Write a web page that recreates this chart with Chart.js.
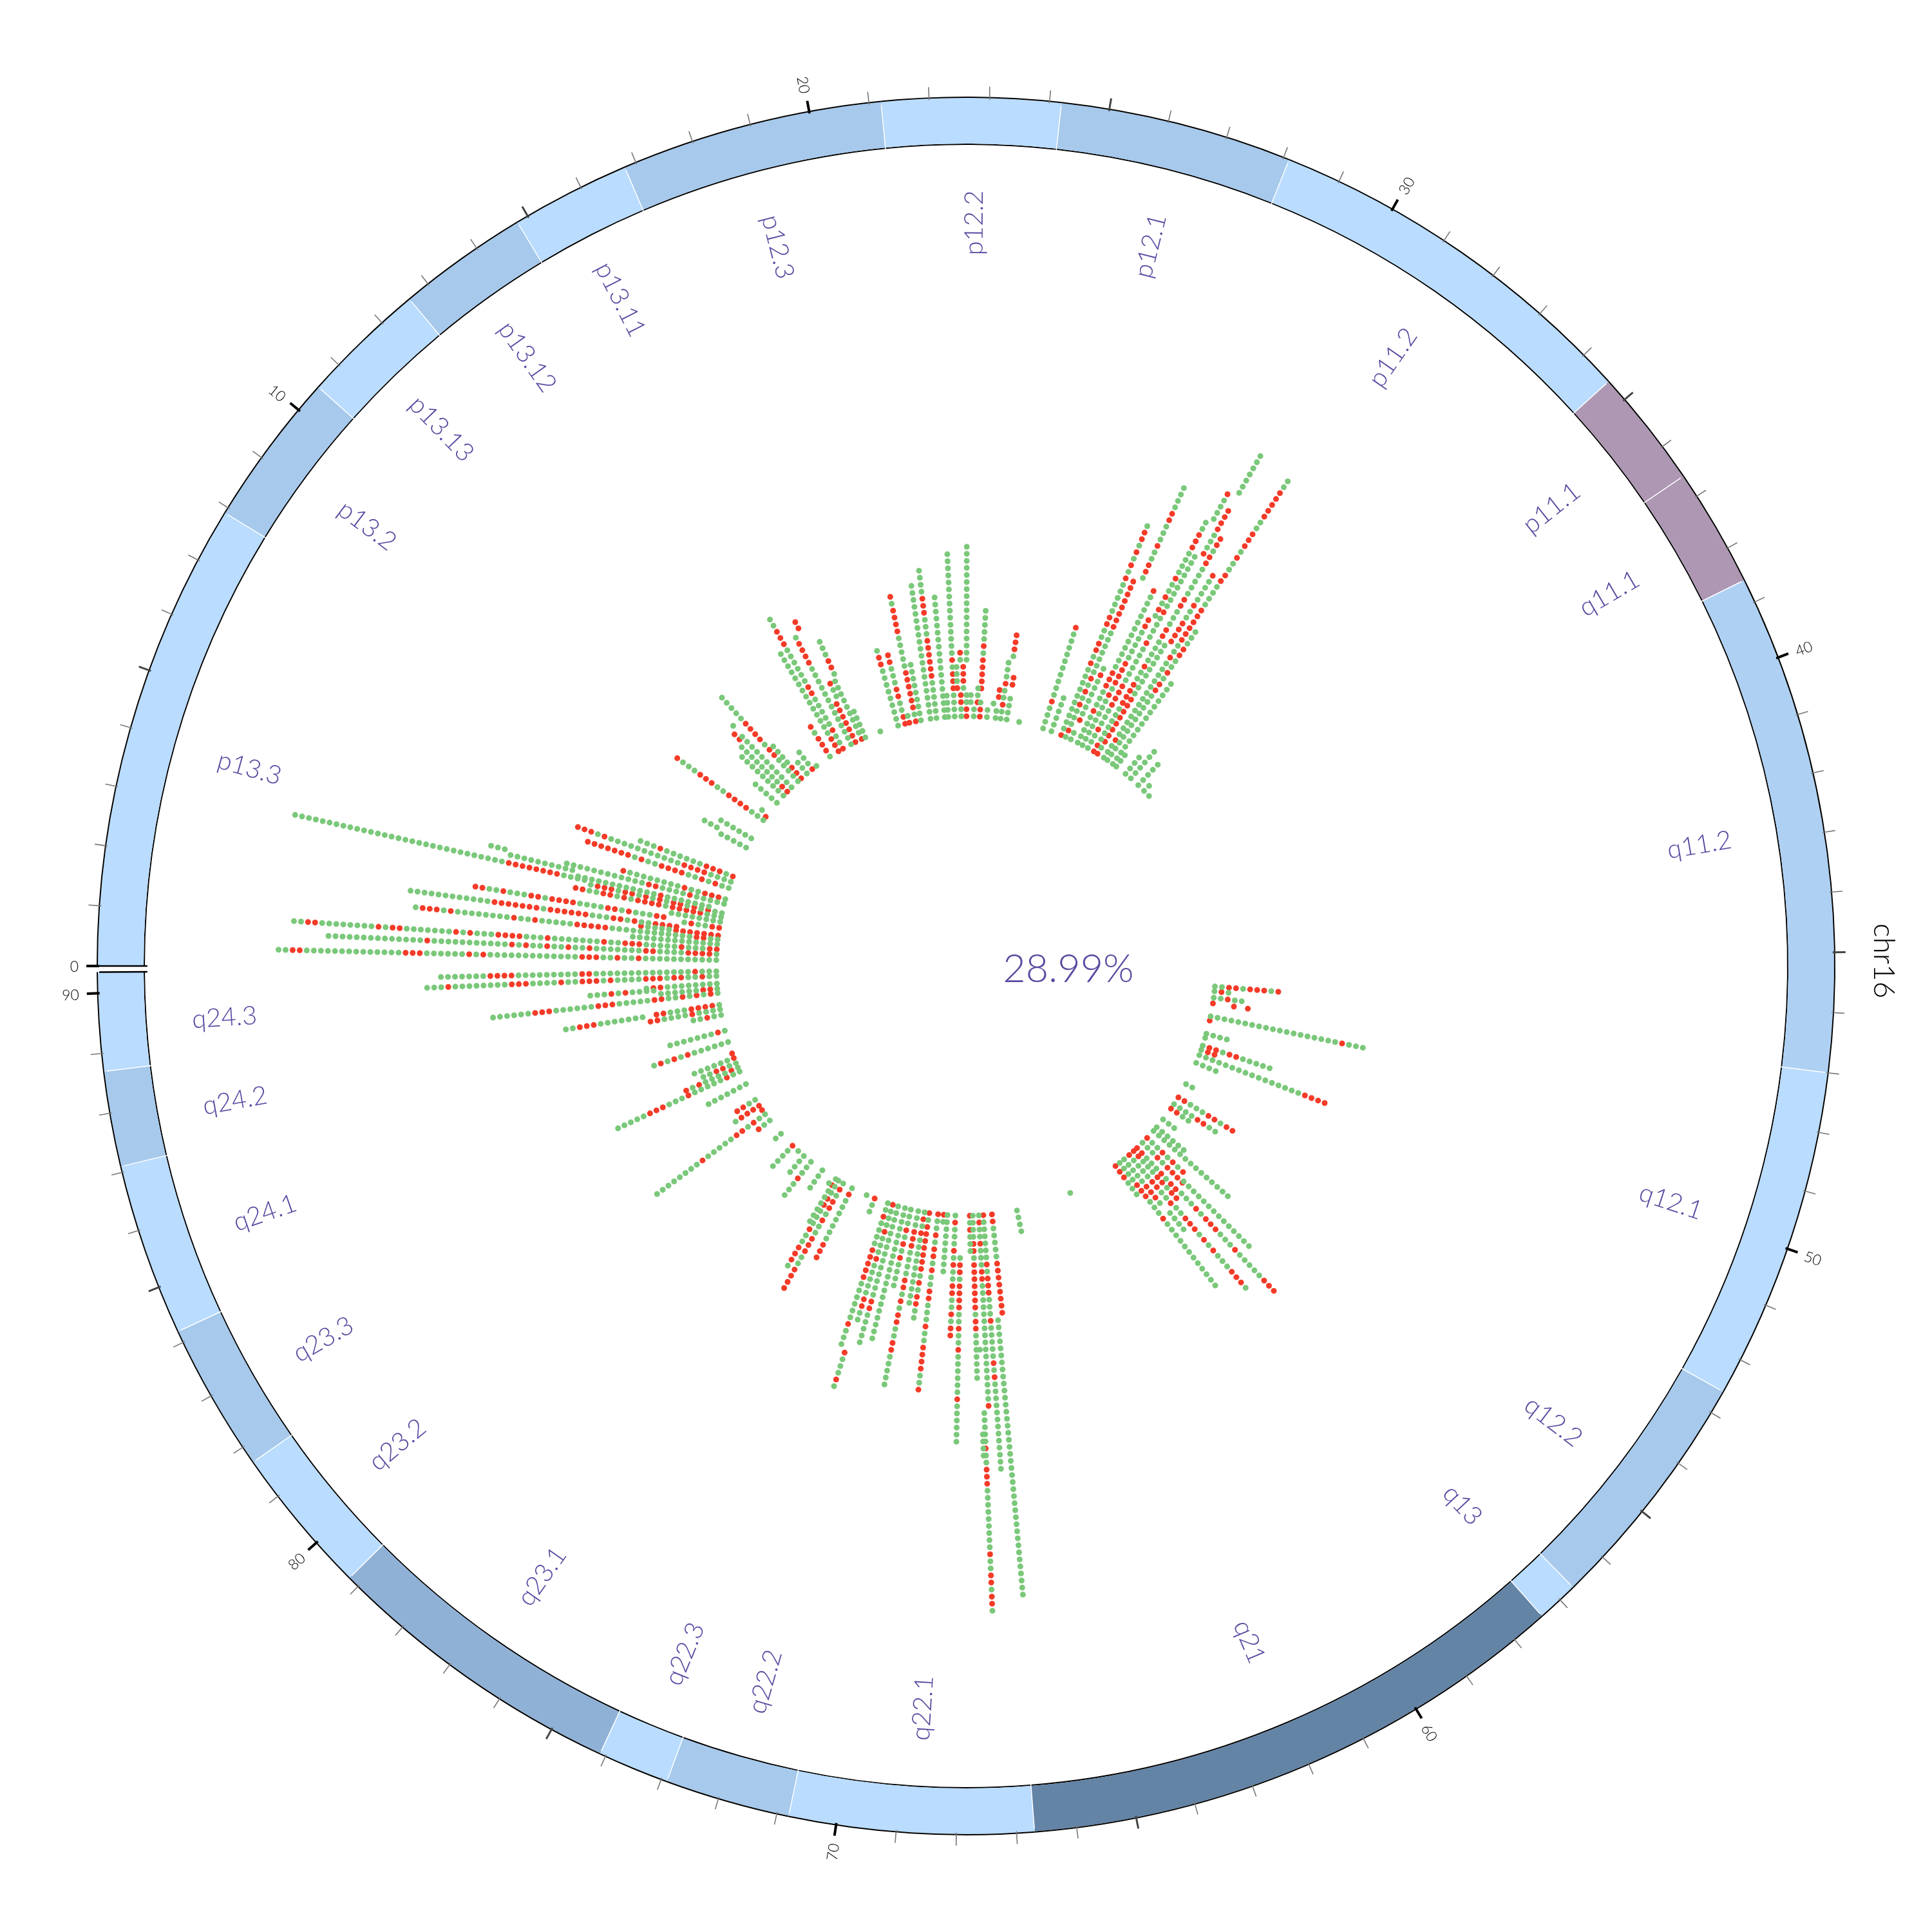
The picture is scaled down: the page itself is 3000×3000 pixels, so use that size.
<!DOCTYPE html>
<html>
<head>
<meta charset="utf-8">
<title>chr16</title>
<script src="https://cdn.jsdelivr.net/npm/chart.js@4"></script>
<style>
  html, body { margin: 0; padding: 0; background: #fff; }
  #stage { position: relative; width: 3000px; height: 3000px; }
  #stage canvas { position: absolute; left: 0; top: 0; }
</style>
</head>
<body>
<div id="stage">
  <canvas id="ideogram" width="3000" height="3000"></canvas>
  <canvas id="tiles" width="3000" height="3000"></canvas>
</div>
<script>
// Cytobands (Mb)
const bandNames = ['p13.3', 'p13.2', 'p13.13', 'p13.12', 'p13.11', 'p12.3', 'p12.2', 'p12.1', 'p11.2', 'p11.1', 'q11.1', 'q11.2', 'q12.1',
  'q12.2', 'q13', 'q21', 'q22.1', 'q22.2', 'q22.3', 'q23.1', 'q23.2', 'q23.3', 'q24.1', 'q24.2', 'q24.3'];
const bandEnds = [7.9, 10.5, 12.6, 14.8, 16.8, 21.2, 24.2, 28.1, 34.6, 36.6, 38.6, 47.0, 52.6,
  56.7, 57.4, 66.7, 70.8, 72.9, 74.1, 79.2, 81.7, 84.2, 87.1, 88.7, 90.35];
const bandColors = ['#b9dcff', '#a6c9ec', '#b9dcff', '#a6c9ec', '#b9dcff', '#a6c9ec', '#b9dcff', '#a6c9ec', '#b9dcff', '#ad97b3', '#ad97b3', '#aed0f3', '#b9dcff',
  '#a6c9ec', '#b9dcff', '#6484a6', '#b9dcff', '#a6c9ec', '#b9dcff', '#90b1d6', '#b9dcff', '#a6c9ec', '#b9dcff', '#a6c9ec', '#b9dcff'];

const centerLabel = '28.99%';
const chromosomeLabel = 'chr16';
const tickLabels = ['0', '10', '20', '30', '40', '50', '60', '70', '80', '90'];

// Tile columns: position in Mb, first layer, and the layers going outwards (g green, r red, . empty)
const columnMb = [
  0.34, 0.68, 0.96, 1.26, 1.53, 1.76, 1.94, 2.21, 2.31, 2.56,
  2.84, 3.07, 3.19, 3.27, 3.44, 3.57, 3.62, 3.90, 4.57, 4.95, 5.28,
  7.11, 7.31, 7.72, 8.98, 9.22, 9.40, 10.25, 10.81, 11.13, 11.31, 11.48,
  11.53, 11.99, 12.24, 12.67, 13.07, 13.37, 14.32, 14.90, 15.20, 15.73,
  15.98, 16.01, 16.16, 16.41, 16.51, 16.64, 17.57, 18.65, 19.07, 19.32,
  19.70, 20.00, 20.56, 20.91, 21.39, 21.59, 21.96, 22.16, 22.34, 22.48,
  22.64, 22.87, 23.06, 23.24, 23.41, 23.82, 24.12, 24.32, 24.36, 24.62,
  24.80, 24.97, 25.70,
  27.13, 27.64, 28.24, 28.52, 28.77, 28.85, 29.29, 29.60, 29.75, 29.90,
  30.15, 29.95, 30.14, 30.35, 30.60, 30.73, 31.05, 31.03, 31.28, 31.66,
  31.91, 32.59, 32.99, 33.57, 34.04, 34.45,
  46.41, 46.69, 47.06, 47.39, 48.15, 48.40, 49.18, 49.43, 49.90, 50.16,
  50.48, 50.96, 52.32, 53.20, 53.67, 53.98, 54.75, 55.33, 55.61, 56.16,
  56.46, 56.54, 56.92, 56.98, 57.24, 57.54, 57.59, 57.90, 57.97, 58.30,
  58.60, 61.64,
  64.88, 66.34, 66.54, 66.84, 67.10, 67.25, 67.32, 67.32, 67.45, 67.62,
  68.13, 68.45, 68.91, 69.12, 69.45, 69.96, 70.24, 70.61, 71.04, 71.39,
  71.80, 72.12, 72.42, 72.22, 73.23, 73.73,
  74.66, 75.24, 75.56, 75.74, 75.94, 76.66, 77.48, 78.01, 78.44, 78.89,
  79.85, 80.85, 81.30, 81.60, 81.90, 82.31, 83.36, 84.17, 84.42, 84.70,
  85.02, 85.30, 86.00, 86.68, 87.61, 87.94, 88.19, 88.21, 88.89, 89.14,
  89.32, 89.44, 89.87, 90.15
];
const columnFirstLayer = [
  0, 0, 0, 0, 0, 0, 6, 0, 8, 0,
  0, 0, 20, 2, 22, 32, 0, 0, 0, 0, 0,
  0, 5, 0, 0, 0, 1, 0, 0, 0, 10, 0,
  12, 0, 0, 0, 0, 0, 0, 0, 0, 0,
  18, 0, 7, 0, 10, 0, 0, 0, 0, 0,
  0, 0, 0, 0, 0, 0, 0, 4, 0, 4,
  0, 2, 0, 2, 0, 0, 2, 0, 3, 0,
  9, 0, 0,
  0, 0, 0, 0, 25, 0, 0, 0, 21, 37,
  42, 0, 32, 0, 0, 19, 31, 0, 0, 0,
  0, 0, 0, 0, 0, 0,
  0, 0, 0, 0, 0, 0, 0, 0, 0, 0,
  0, 0, 0, 0, 0, 0, 0, 0, 0, 0,
  8, 0, 9, 0, 0, 10, 0, 10, 0, 0,
  0, 0,
  0, 0, 15, 0, 0, 28, 19, 31, 0, 0,
  6, 0, 0, 0, 0, 0, 0, 0, 0, 0,
  0, 0, 0, 22, 0, 0,
  0, 0, 0, 0, 1, 0, 0, 0, 0, 0,
  0, 0, 0, 0, 0, 0, 0, 0, 0, 0,
  0, 0, 0, 0, 0, 0, 11, 0, 0, 0,
  9, 0, 0, 0
];
const columnCalls = [
  'g11 r g2 r g2 r3 g13 r g r g6 r3 g14 r2 g2', 'g r4 g4 r2 g7 r g2 r g2 r g2 r g r g11 r g14',
  'r2 g3 r g5 r3 g2 r g7 r g3 r4 g3 r g r g7 r2 g r g8 r2 g2', 'g13', 'g2 r2 g12 r5 g5 r g2 r g8 r g r3 g',
  'r7 g4 r', 'r4 g2 r g r2 g3 r6 g r7 g12', 'r2 g2 r g', 'r2 g3 r g r2 g4 r4 g r2 g3 r g2 r2', 'g8',
  'g3 r5 g r4 g r g r2 g2 r2', 'g2 r g r g r2 g r g r g r2 g r3 g', 'g4 r8 g31', 'g7 r g12', 'g10', 'g3', 'g5 r g4 r2 g12',
  'g r3 g2 r g8 r', 'g2 r g r g2 r4 g2 r g r7', 'g4 r4 g11 r g r3', 'r g r3 g6 r g3',
  'g5', 'g3', 'g6', 'g3 r4 g2 r3 g3 r', 'r', 'g', 'g5', 'g9', 'r2 g8', 'r2', 'g11',
  'g', 'g5 r2 g r4 g5', 'r3 g4', 'g3', 'r g3', 'g', 'g r3 g r', 'r3 g14', 'r g2 r g5 r2 g6 r3 g2', 'g13 r4 g',
  'r2', 'r7', 'g2 r', 'r g9', 'g r2 g3', 'g5', 'g', 'g9 r2 g', 'r2 g2 r2 g3 r2', 'r g',
  'r g r6 g5 r4 g r', 'g9', 'g20', 'g6 r6 g3 r3 g4', 'g18', 'g4', 'g4 r3 g r g15', 'r g3', 'g2 r2 .4 g r', 'g r3',
  'r2 g2 .4 g17', 'g2', 'g2', 'r g2', 'r2 g . r5 g r g5', 'g2', 'g', 'g2', 'r2', 'g2 r g2 r g3',
  'g r3', 'g4 . r2', 'g',
  'g4 r g10 r', 'g6', 'r g10 r g r2 g2 r2 g5 r g r g r g r2 g', 'g r g3 r g r g r g7 r8', 'g r2 g2 r g3 r2 g4',
  'g2 . r g6 r g', 'g5 r g3 r3 g12 r', 'g8 r g r4 g5 r2', 'g r g r g2 r g4 r3 g2', 'g4 r',
  'g7', 'g3 r g3 r4 g6 r g4 r g9', 'r g3 r4', 'r2 g6 r4 g2 r g4 r2 g3 r2 g5 r2 g r2', 'r g r8 g9',
  'r4 g2 r g4 r', 'r g2 r g r3 g2 r5 g2', 'g3 r g13 r g2 r6 g4 r', 'g12 r2 g r g2 r2 g3', 'g15',
  'g3', 'g4', 'g6', 'g5', 'g2', 'g',
  'g2 r2 g r3 g r', 'g r g', 'g2 r g2', 'r .2 r . r', 'g19 r g3', 'r', 'g4', 'g', 'g r2 g r2 g5', 'g r2',
  'g16 r4', 'g4', 'g2', 'r2 g3 r2 g r2', 'g4 r2 g2', 'r2 g2', 'g3', 'g6', 'g15', 'r g2 r g r g r',
  'g14', 'g3 r g r4', 'g3 r g r3 g3 r g5 r3', 'r2 g3 r g r2', 'r2 g3 r2 g r2', 'g2 r3 g r g r g3 r3 g', 'r g4 r2 g2 r', 'g4', 'g5 r3 g', 'g4 r3 g3 r g12',
  'r3 g3', 'g',
  'g4', 'r2 g5 r8', 'g40', 'r g6 r g r3 g3 r g5 r g r g13', 'g r g2 r g3 r2 g17 r', 'g5 r g2 r3 g9 r g2 r2 g r2 g', 'g', 'g4', 'g4 r2 g r7 g r2 g7', 'r g r g3',
  'g r2 g r4 g2 r g2 r g6 r g6', 'g r g3 r g r g2 r2 g2 r g r2', 'g9', 'r g', 'r g2 r g r2 g r g2 r2 g3 r g2 r4 g2 r', 'r g r7 g r g r2 g2', 'g r g r g10', 'g3 r3 g4 r2 g r g r2 g2 r2 g5', 'g3 r g r g r g4', 'g20',
  'g14 r2 g5', 'r g3 r g3 r g5 r2 g2', 'g2 r g4 r5 g6 r g3', 'r g3 r g', 'r g2', 'g',
  'g r g7 r3', 'g r g r2 g r g2 r3 g2 r4', 'g3 r2 g3 r g2 r3 g', 'g r g6', 'g', 'g4', 'g3 r g3', 'g4', 'g', 'r g4',
  'g2', 'g2 r', 'g2 r g r2 g5 r g8', 'r', 'r4 g', 'g2 r2', 'g7', 'g2 r g5 r g3 r3 g5', 'g r g4 r g r', 'g2 r2 g2',
  'r g6', 'r', 'g6 r g r g r g', 'g r g7', 'g2 r g2', 'g4 r g4 r2', 'g7 r3 g2', 'g r4 g3 r2', 'g r g r g r g2 r2 g5 r3 g6 r3 g6', 'g r2 g6',
  'g4 r g r g3', 'g8 r2 g', 'g2 r g2 r2 g r3 g4 r g r3 g2 r g4 r3 g8 r g3', 'g3 r g14 r2 g9 r4 g7'
];

const DEG_PER_MB = 3.98;
const GAP_MB = 360 / DEG_PER_MB - bandEnds[bandEnds.length - 1];
const RING_OUTER = 1350;
const RING_INNER = 1275;
const TICK_LENGTH = 20;
const LAYER_BASE = 389;
const LAYER_STEP = 11;
const PURPLE = '#5a48a0';
const FONT = 'Lato, "Open Sans", sans-serif';

if (columnMb.length !== columnFirstLayer.length || columnMb.length !== columnCalls.length) {
  console.error('column arrays differ', columnMb.length, columnFirstLayer.length, columnCalls.length);
}

// 0 Mb sits at 9 o'clock and positions run clockwise
function mbToAngle(mb) {
  return (mb * DEG_PER_MB - 90) * Math.PI / 180;
}

function polar(mb, radius) {
  const angle = mbToAngle(mb);
  return { x: radius * Math.sin(angle), y: radius * Math.cos(angle) };
}

function expandCalls(text) {
  const calls = [];
  for (const match of text.matchAll(/([gr.])(\d*)/g)) {
    const count = match[2] ? parseInt(match[2], 10) : 1;
    for (let i = 0; i < count; i++) calls.push(match[1]);
  }
  return calls;
}

function tileDots(wanted) {
  const dots = [];
  columnMb.forEach((mb, i) => {
    expandCalls(columnCalls[i]).forEach((call, j) => {
      if (call === wanted) {
        dots.push(polar(mb, LAYER_BASE + LAYER_STEP * (columnFirstLayer[i] + j)));
      }
    });
  });
  return dots;
}

function radialSegments(positions, from, to) {
  const points = [];
  positions.forEach(mb => {
    points.push(polar(mb, from), polar(mb, to), { x: NaN, y: NaN });
  });
  return points;
}

const allTicks = Array.from({ length: 91 }, (_, i) => i);
const minorTicks = allTicks.filter(mb => mb % 5 !== 0);
const midTicks = allTicks.filter(mb => mb % 5 === 0 && mb % 10 !== 0);
const majorTicks = allTicks.filter(mb => mb % 10 === 0);

// Ideogram ring
const bandSizes = bandEnds.map((end, i) => end - (i ? bandEnds[i - 1] : 0));
bandSizes.push(GAP_MB);
const sliceColors = bandColors.concat(['rgba(0,0,0,0)']);
const outlineColors = bandColors.map(() => '#000').concat(['rgba(0,0,0,0)']);

new Chart(document.getElementById('ideogram'), {
  type: 'doughnut',
  data: {
    labels: bandNames.concat(['gap']),
    datasets: [
      { data: bandSizes, backgroundColor: outlineColors, borderWidth: 0, weight: 2 },
      { data: bandSizes, backgroundColor: sliceColors, borderWidth: 0, weight: 71 },
      { data: bandSizes, backgroundColor: outlineColors, borderWidth: 0, weight: 2 }
    ]
  },
  options: {
    responsive: false,
    devicePixelRatio: 1,
    animation: false,
    rotation: -90,
    circumference: 360,
    cutout: (RING_INNER / RING_OUTER * 100) + '%',
    layout: { padding: 150 },
    plugins: { legend: { display: false }, tooltip: { enabled: false } }
  }
});

function drawRadialText(ctx, chart, text, mb, radius, nudge) {
  const deg = ((mb * DEG_PER_MB - 90) % 360 + 360) % 360;
  const point = polar(mb, radius);
  const px = chart.scales.x.getPixelForValue(point.x);
  const py = chart.scales.y.getPixelForValue(point.y);
  ctx.save();
  ctx.translate(px, py);
  if (deg < 180) {
    ctx.rotate((deg - 90) * Math.PI / 180);
    ctx.textAlign = 'left';
  } else {
    ctx.rotate((deg - 270) * Math.PI / 180);
    ctx.textAlign = 'right';
  }
  ctx.textBaseline = 'middle';
  ctx.fillText(text, 0, nudge);
  ctx.restore();
}

const textPlugin = {
  id: 'ringText',
  afterDatasetsDraw(chart) {
    const ctx = chart.ctx;
    ctx.save();
    ctx.fillStyle = PURPLE;
    ctx.font = '300 40px ' + FONT;
    bandNames.forEach((name, i) => {
      const mid = ((i ? bandEnds[i - 1] : 0) + bandEnds[i]) / 2;
      drawRadialText(ctx, chart, name, mid, 1107, 6);
    });

    ctx.fillStyle = '#000';
    ctx.font = '300 23px ' + FONT;
    tickLabels.forEach(label => {
      drawRadialText(ctx, chart, label, parseInt(label, 10), RING_OUTER + TICK_LENGTH + 12, 2);
    });

    ctx.fillStyle = PURPLE;
    ctx.font = '300 61px ' + FONT;
    ctx.textAlign = 'center';
    ctx.textBaseline = 'middle';
    ctx.fillText(centerLabel, 1659, 1505);

    ctx.fillStyle = '#000';
    ctx.font = '300 46px ' + FONT;
    ctx.translate(2925, 1492);
    ctx.rotate(Math.PI / 2);
    ctx.fillText(chromosomeLabel, 0, 0);
    ctx.restore();
  }
};

function lineDataset(points, color, width) {
  return {
    data: points,
    showLine: true,
    spanGaps: false,
    borderColor: color,
    borderWidth: width,
    pointRadius: 0
  };
}

function dotDataset(call, color) {
  return {
    data: tileDots(call),
    showLine: false,
    pointRadius: 4.5,
    pointBorderWidth: 0,
    backgroundColor: color
  };
}

const lastEnd = bandEnds[bandEnds.length - 1];

new Chart(document.getElementById('tiles'), {
  type: 'scatter',
  data: {
    datasets: [
      lineDataset(radialSegments(minorTicks, RING_OUTER, RING_OUTER + TICK_LENGTH), '#777', 1.6),
      lineDataset(radialSegments(midTicks, RING_OUTER, RING_OUTER + TICK_LENGTH), '#444', 3),
      lineDataset(radialSegments(majorTicks, RING_OUTER, RING_OUTER + TICK_LENGTH), '#000', 4),
      // white lines between the bands, black straight ends on both sides of the gap
      lineDataset(radialSegments(bandEnds.slice(0, -1), RING_INNER + 2, RING_OUTER - 2), '#fff', 1.5),
      lineDataset(radialSegments([0, lastEnd], RING_INNER, RING_OUTER), '#000', 2.5),
      dotDataset('g', '#7ac87a'),
      dotDataset('r', '#f33b28')
    ]
  },
  options: {
    responsive: false,
    devicePixelRatio: 1,
    animation: false,
    layout: { padding: 0 },
    scales: {
      x: { type: 'linear', min: -1500, max: 1500, display: false },
      y: { type: 'linear', min: -1500, max: 1500, display: false }
    },
    plugins: { legend: { display: false }, tooltip: { enabled: false } }
  },
  plugins: [textPlugin]
});
</script>
</body>
</html>
